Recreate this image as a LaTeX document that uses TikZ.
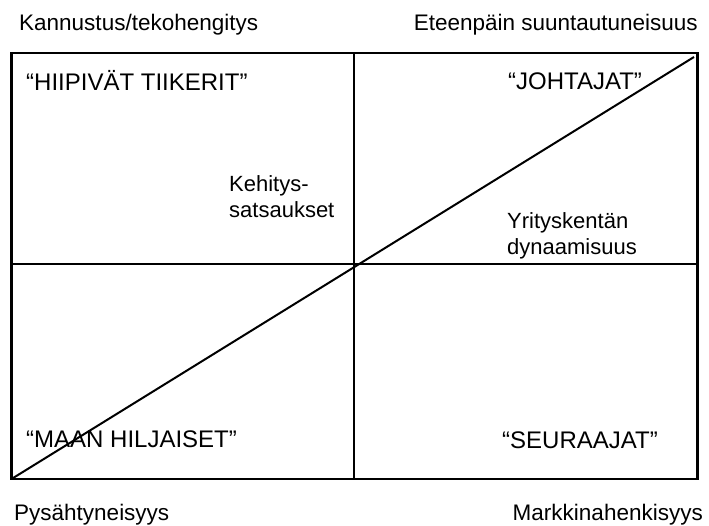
\documentclass[tikz,border=0pt]{standalone}
\usepackage{fontspec}
\setmainfont{Liberation Sans}
\usepackage{tikz}
\usepackage{xcolor}
\tikzset{
    axis-label/.style = {inner sep=0pt, font=\fontsize{22.5}{27}\selectfont},
    quad-title/.style = {inner sep=0pt, font=\fontsize{24}{28}\selectfont},
    mid-label/.style = {inner sep=0pt, align=left, font=\fontsize{22}{26}\selectfont},
    frame-line/.style = {draw=black, line width=2.3pt},
    cross-line/.style = {draw=black, line width=2.8pt},
    diag-line/.style = {draw=black, line width=2pt},
}

\begin{document}
\begin{tikzpicture}[x=1pt, y=-1pt]
\useasboundingbox (0,0) rectangle (709,526);
% frame corners and cross points
\coordinate (nw) at (11.5,53);
\coordinate (se) at (697.5,479);
\coordinate (sw) at (11.5,479);
\coordinate (top) at (354,53);
\coordinate (bottom) at (354,479);
\coordinate (left) at (11.5,264);
\coordinate (right) at (697.5,264);
\coordinate (diag-end) at (694,57);
\draw[cross-line] (top) -- (bottom);
\draw[cross-line] (left) -- (right);
\draw[diag-line] (sw) -- (diag-end);
\draw[frame-line] (nw) rectangle (se);
% axis texts
\node[axis-label, anchor=base west] (spur) at (19,31) {Kannustus/tekohengitys};
\node[axis-label, anchor=base east] (forward) at (698,31) {Eteenpäin suuntautuneisuus};
\node[axis-label, anchor=base west] (stagnation) at (14,520) {Pysähtyneisyys};
\node[axis-label, anchor=base east] (market) at (703,520) {Markkinahenkisyys};
% quadrants
\node[quad-title, anchor=base west] (tigers) at (26,91) {“HIIPIVÄT TIIKERIT”};
\node[quad-title, anchor=base west] (leaders) at (508,90) {“JOHTAJAT”};
\node[quad-title, anchor=base west] (silent) at (26,447) {“MAAN HILJAISET”};
\node[quad-title, anchor=base west] (followers) at (502,448) {“SEURAAJAT”};
% middle texts
\node[mid-label, anchor=west] (investments) at (229,197) {Kehitys-\\satsaukset};
\node[mid-label, anchor=west] (dynamism) at (507,236) {Yrityskentän\\dynaamisuus};
\end{tikzpicture}
\end{document}
